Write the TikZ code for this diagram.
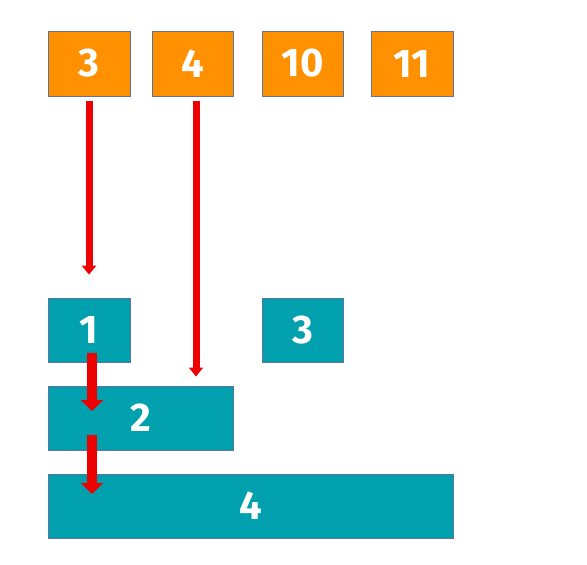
\documentclass[tikz,border=0pt]{standalone}
\usepackage{fontspec}
\setmainfont{Fira Sans}
\usetikzlibrary{arrows.meta}
\definecolor{orangebox}{RGB}{255,145,0}
\definecolor{tealbox}{RGB}{0,160,174}
\definecolor{boxedge}{RGB}{95,115,155}
\definecolor{arrowred}{RGB}{236,0,0}
\tikzset{
  numbox/.style={rectangle, draw=boxedge, line width=0.8pt, text=white,
    font=\fontsize{40}{40}\selectfont\bfseries, inner sep=0pt, minimum height=65},
  obox/.style={numbox, fill=orangebox},
  tbox/.style={numbox, fill=tealbox, minimum height=64},
  thinarrow/.style={draw=arrowred, line width=7pt, -{Triangle[width=14pt,length=9pt]}},
  thickarrow/.style={draw=arrowred, line width=10pt, -{Triangle[width=22pt,length=11pt]}}
}
\begin{document}
\begin{tikzpicture}[x=1pt,y=-1pt]
\useasboundingbox (0,0) rectangle (587,565);
% top row
\node[obox, minimum width=82] (o3) at (89,63.5) {3};
\node[obox, minimum width=81] (o4) at (192.5,63.5) {4};
\node[obox, minimum width=81] (o10) at (302.5,63.5) {10};
\node[obox, minimum width=82] (o11) at (412,63.5) {11};
% teal boxes
\node[tbox, minimum width=82] (t1) at (89,330) {1};
\node[tbox, minimum width=81] (t3) at (302.5,330) {3};
\node[tbox, minimum width=185] (t2) at (140.5,418) {2};
\node[tbox, minimum width=405] (t4) at (250.5,506) {4};
% arrow end points
\coordinate (a1s) at ([yshift=-5]o3.south);
\coordinate (a1e) at ([yshift=23]t1.north);
\coordinate (a2s) at ([xshift=3.5,yshift=-5]o4.south);
\coordinate (a2e) at (a2s |- 0,376.5);
\coordinate (b1s) at (92,353);
\coordinate (b1e) at (92,411);
\coordinate (b2s) at (92,435);
\coordinate (b2e) at (92,494);
\draw[thinarrow] (a1s) -- (a1e);
\draw[thinarrow] (a2s) -- (a2e);
\draw[thickarrow] (b1s) -- (b1e);
\draw[thickarrow] (b2s) -- (b2e);
\end{tikzpicture}
\end{document}
